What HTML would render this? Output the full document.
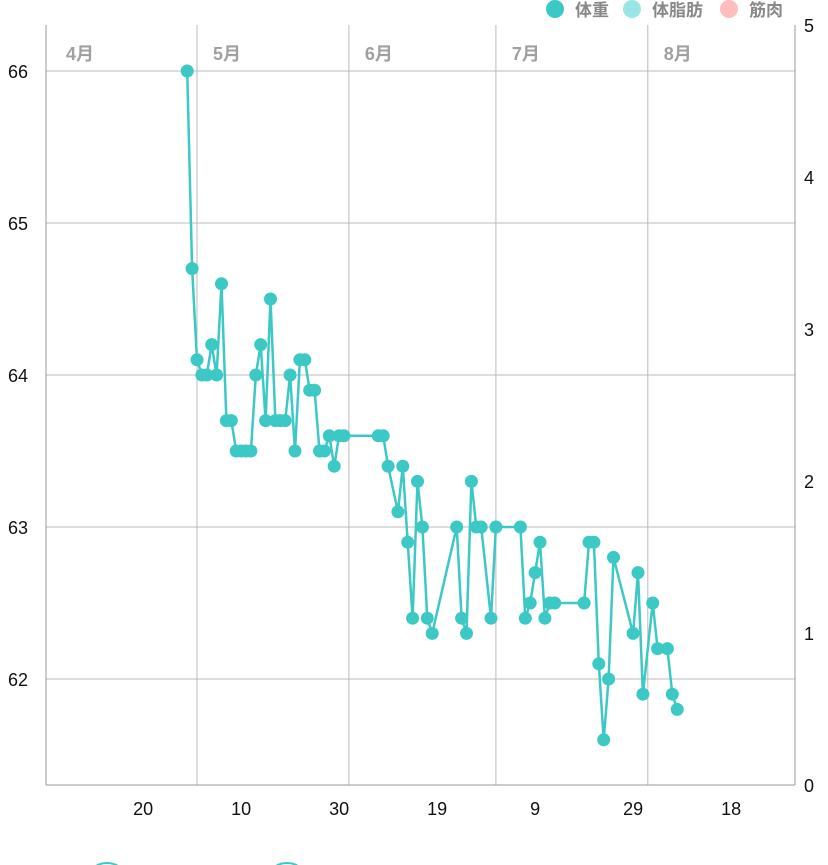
<!DOCTYPE html>
<html><head><meta charset="utf-8"><style>
body{margin:0;background:#fff;width:828px;height:865px;overflow:hidden;font-family:"Liberation Sans","Noto Sans CJK JP",sans-serif}
</style></head><body>
<svg width="828" height="865" style="position:absolute;left:0;top:0">
<g id="grid"></g><g id="series"></g><g id="labels"></g>
<g font-size="17" font-weight="bold" fill="#888">
<circle cx="555" cy="9" r="9" fill="#3cc8c4"/>
<text x="575" y="16">体重</text>
<circle cx="632" cy="9" r="9" fill="#9ae6e4"/>
<text x="652" y="16">体脂肪</text>
<circle cx="729" cy="9" r="9" fill="#ffbdbd"/>
<text x="749" y="16">筋肉</text>
</g>
<circle cx="107" cy="885" r="22" fill="none" stroke="#3cc8c4" stroke-width="2"/>
<circle cx="287" cy="885" r="22" fill="none" stroke="#3cc8c4" stroke-width="2"/>
</svg>
<script>
const days=[-2,-1,0,1,2,3,4,5,6,7,8,9,10,11,12,13,14,15,16,17,18,19,20,21,22,23,24,25,26,27,28,29,30,37,38,39,41,42,43,44,45,46,47,48,53,54,55,56,57,58,60,61,66,67,68,69,70,71,72,73,79,80,81,82,83,84,85,89,90,91,93,94,96,97,98];
const weights=[66.0,64.7,64.1,64.0,64.0,64.2,64.0,64.6,63.7,63.7,63.5,63.5,63.5,63.5,64.0,64.2,63.7,64.5,63.7,63.7,63.7,64.0,63.5,64.1,64.1,63.9,63.9,63.5,63.5,63.6,63.4,63.6,63.6,63.6,63.6,63.4,63.1,63.4,62.9,62.4,63.3,63.0,62.4,62.3,63.0,62.4,62.3,63.3,63.0,63.0,62.4,63.0,63.0,62.4,62.5,62.7,62.9,62.4,62.5,62.5,62.5,62.9,62.9,62.1,61.6,62.0,62.8,62.3,62.7,61.9,62.5,62.2,62.2,61.9,61.8];
const leftTicks=[62,63,64,65,66];
const rightTicks=[0,1,2,3,4,5];
const monthDays=[-30,0,31,61,92];
const monthLabels=["4月","5月","6月","7月","8月"];
const xTickDays=[-11,9,29,49,69,89,109];
const xTickLabels=["20","10","30","19","9","29","18"];
const L=46,R=795,T=25,B=785;
const x=d=>197+d*4.9;
const y=v=>679-(v-62)*152;
const yr=v=>785-v*152;
const NS="http://www.w3.org/2000/svg";
function mk(tag,attrs,parent){const e=document.createElementNS(NS,tag);for(const k in attrs)e.setAttribute(k,attrs[k]);document.getElementById(parent).appendChild(e);return e;}
leftTicks.forEach(v=>{
 const l=mk('line',{x1:L,x2:R,y1:y(v),y2:y(v),stroke:'#bbb','stroke-width':1},'grid');
 
 
 const t=mk('text',{x:8,y:y(v)+7,'font-size':18,fill:'#111'},'labels');t.textContent=v;
 
 
});
rightTicks.forEach(v=>{
 const t=mk('text',{x:804,y:yr(v)+7,'font-size':18,fill:'#111'},'labels');t.textContent=v;
 
 
});
monthDays.forEach((d,i)=>{
 if(i>0){const l=mk('line',{x1:x(d),x2:x(d),y1:T,y2:B,stroke:'#bbb','stroke-width':1},'grid');
 
 }
 const t=mk('text',{x:Math.max(x(d),L)+16,y:60,'font-size':18,'font-weight':'bold',fill:'#a0a0a0'},'labels');t.textContent=monthLabels[i];
 
 
});
[[L,T,L,B],[R,T,R,B],[L,B,R,B]].forEach(a=>{
 const l=mk('line',{x1:a[0],y1:a[1],x2:a[2],y2:a[3],stroke:'#999','stroke-width':1},'grid');
 
 
});
xTickDays.forEach((d,i)=>{
 const t=mk('text',{x:x(d),y:815,'font-size':18,fill:'#111','text-anchor':'middle'},'labels');t.textContent=xTickLabels[i];
 
 
});
const p=mk('polyline',{points:days.map((d,i)=>x(d)+','+y(weights[i])).join(' '),fill:'none',stroke:'#3cc8c4','stroke-width':2.5},'series');


days.forEach((d,i)=>{
 const c=mk('circle',{cx:x(d),cy:y(weights[i]),r:6.5,fill:'#3cc8c4'},'series');
 
 
});
</script>
</body></html>
